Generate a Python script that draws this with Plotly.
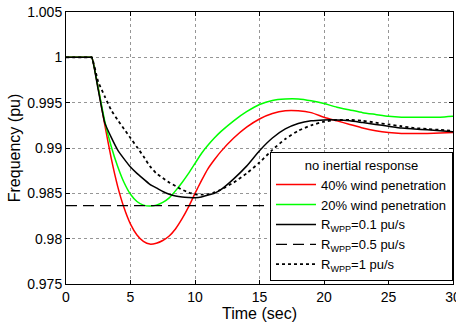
import plotly.graph_objects as go

t = [0, 1.9, 2, 2.5, 3, 3.5, 4, 4.5, 5, 5.5, 6, 6.5, 7, 7.5, 8, 8.5, 9, 9.5, 10, 10.5, 11, 11.5, 12,
     13, 14, 15, 16, 17, 18, 19, 20, 21, 22, 23, 24, 25, 26, 27, 28, 29, 30]

wind40 = [1, 1, 1, 0.9966, 0.9926, 0.9889, 0.9858, 0.9834, 0.9816, 0.9804, 0.9797, 0.9794, 0.9795, 0.9798,
          0.9803, 0.9811, 0.9822, 0.9835, 0.9850, 0.9864, 0.9877, 0.9887, 0.9896,
          0.9911, 0.9923, 0.9932, 0.9938, 0.9941, 0.9941, 0.9939, 0.9934, 0.9930, 0.9926, 0.9922,
          0.9919, 0.9917, 0.9916, 0.9916, 0.9916, 0.99165, 0.9917]

wind20 = [1, 1, 1, 0.9966, 0.9930, 0.9902, 0.9880, 0.9862, 0.9849, 0.9841, 0.9837, 0.9836, 0.9837, 0.9840,
          0.9845, 0.9853, 0.9862, 0.9872, 0.9883, 0.9894, 0.9903, 0.9911, 0.9918,
          0.9930, 0.9940, 0.9948, 0.99525, 0.9954, 0.9954, 0.9952, 0.9949, 0.9945, 0.9942, 0.9939,
          0.9937, 0.9935, 0.9934, 0.9934, 0.9934, 0.9934, 0.9935]

r01 = [1, 1, 1, 0.9964, 0.9928, 0.9912, 0.9898, 0.9888, 0.9879, 0.9872, 0.9866, 0.9860, 0.9856, 0.9852,
       0.9849, 0.9847, 0.9846, 0.98455, 0.98452, 0.9846, 0.9848, 0.9850, 0.9854,
       0.9866, 0.9880, 0.9897, 0.9911, 0.9921, 0.9927, 0.9930, 0.9931, 0.9931, 0.9930, 0.9928,
       0.9926, 0.9924, 0.9922, 0.9921, 0.9920, 0.9919, 0.9918]

r05_level = 0.98365
r05 = [r05_level] * len(t)

r1 = [1, 1, 1, 0.9973, 0.9957, 0.9942, 0.9931, 0.9921, 0.9911, 0.9901, 0.9891, 0.9880, 0.9872, 0.9867,
      0.9862, 0.9858, 0.9854, 0.9851, 0.9849, 0.98485, 0.9849, 0.9851, 0.9854,
      0.9862, 0.9872, 0.9884, 0.9898, 0.9910, 0.9919, 0.9925, 0.9929, 0.9931, 0.9931, 0.9930,
      0.9928, 0.9926, 0.9924, 0.9922, 0.9921, 0.9920, 0.9919]

x_ticks = [0, 5, 10, 15, 20, 25, 30]
y_ticks = [0.975, 0.98, 0.985, 0.99, 0.995, 1.0, 1.005]
y_tick_labels = ["0.975", "0.98", "0.985", "0.99", "0.995", "1", "1.005"]

names = ["40% wind penetration", "20% wind penetration",
         "R<sub>WPP</sub>=0.1 pu/s", "R<sub>WPP</sub>=0.5 pu/s", "R<sub>WPP</sub>=1 pu/s"]

FONT = "Liberation Sans, Arial, sans-serif"
SPL = dict(shape="spline", smoothing=0.5)

fig = go.Figure()
fig.add_trace(go.Scatter(x=t, y=wind40, name=names[0], mode="lines",
                         line=dict(color="#ff0000", width=1.5, **SPL)))
fig.add_trace(go.Scatter(x=t, y=wind20, name=names[1], mode="lines",
                         line=dict(color="#00ff00", width=1.5, **SPL)))
fig.add_trace(go.Scatter(x=t, y=r01, name=names[2], mode="lines",
                         line=dict(color="black", width=1.5, **SPL)))
fig.add_trace(go.Scatter(x=t, y=r05, name=names[3], mode="lines",
                         line=dict(color="black", width=1.3, dash="11px,6px")))
fig.add_trace(go.Scatter(x=t, y=r1, name=names[4], mode="lines",
                         line=dict(color="black", width=1.8, dash="dot", **SPL)))

fig.update_layout(
    width=456, height=322,
    margin=dict(l=66, r=3, t=12, b=36),
    paper_bgcolor="white", plot_bgcolor="white",
    font=dict(family=FONT, size=14, color="black"),
    showlegend=True,
    legend=dict(
        x=1, xanchor="right", y=0.012, yanchor="bottom",
        bgcolor="white", bordercolor="black", borderwidth=1,
        font=dict(size=13, family=FONT),
        title=dict(text="no inertial response", side="top center", font=dict(size=13, family=FONT)),
        tracegroupgap=0, itemwidth=40,
    ),
)
fig.update_xaxes(
    range=[0, 30], tickvals=x_ticks, ticks="inside", ticklen=4, tickcolor="black",
    showline=True, linecolor="black", linewidth=1, mirror="ticks",
    showgrid=True, gridcolor="rgb(150,150,150)", griddash="dot", gridwidth=1,
    zeroline=False, tickfont=dict(size=14), ticklabeloverflow="allow", automargin="bottom",
    title=dict(text="Time (sec)", font=dict(size=16), standoff=3),
)
fig.update_yaxes(
    range=[0.975, 1.005], tickvals=y_ticks, ticktext=y_tick_labels, ticks="inside", ticklen=4,
    tickcolor="black", showline=True, linecolor="black", linewidth=1, mirror="ticks",
    showgrid=True, gridcolor="rgb(150,150,150)", griddash="dot", gridwidth=1,
    zeroline=False, tickfont=dict(size=14), automargin=False,
    title=dict(text="Frequency (pu)", font=dict(size=16), standoff=2),
)

fig.write_html("out.html", config={"displayModeBar": False},
               post_script="document.body.style.margin='0';")
